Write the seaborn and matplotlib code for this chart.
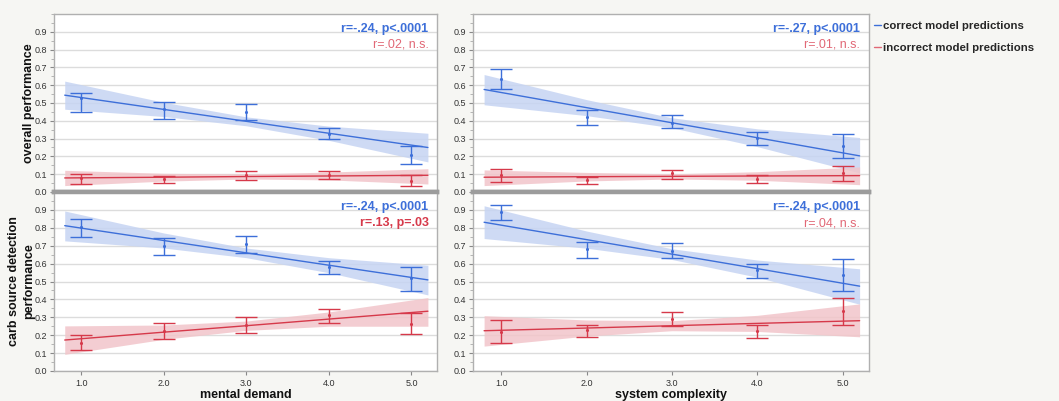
"""
    Mean performance (with 95% CI) of correct vs incorrect model predictions
    against mental demand / system complexity ratings, with linear fit bands.
"""
import pandas as pd
import seaborn as sns
import matplotlib.pyplot as plt
from matplotlib.lines import Line2D
from matplotlib.ticker import MultipleLocator

levels = [1, 2, 3, 4, 5]
fit_x = [0.8, 2, 3, 4, 5.2]

#---- overall performance vs mental demand ----#
op_md_cor_mean = [0.530, 0.467, 0.452, 0.328, 0.210]
op_md_cor_lo = [0.447, 0.411, 0.407, 0.295, 0.160]
op_md_cor_hi = [0.557, 0.508, 0.497, 0.360, 0.259]
op_md_cor_fit = [0.544, 0.464, 0.397, 0.330, 0.250]
op_md_cor_band_lo = [0.465, 0.424, 0.372, 0.290, 0.169]
op_md_cor_band_hi = [0.623, 0.504, 0.422, 0.370, 0.330]
op_md_inc_mean = [0.078, 0.072, 0.095, 0.097, 0.063]
op_md_inc_lo = [0.047, 0.051, 0.069, 0.075, 0.032]
op_md_inc_hi = [0.103, 0.092, 0.120, 0.116, 0.094]
op_md_inc_fit = [0.079, 0.083, 0.087, 0.090, 0.094]
op_md_inc_band_lo = [0.036, 0.061, 0.073, 0.068, 0.045]
op_md_inc_band_hi = [0.122, 0.105, 0.101, 0.112, 0.131]

#---- overall performance vs system complexity ----#
op_sc_cor_mean = [0.636, 0.422, 0.388, 0.306, 0.259]
op_sc_cor_lo = [0.580, 0.377, 0.360, 0.265, 0.190]
op_sc_cor_hi = [0.690, 0.463, 0.433, 0.336, 0.325]
op_sc_cor_fit = [0.576, 0.474, 0.389, 0.305, 0.203]
op_sc_cor_band_lo = [0.490, 0.429, 0.361, 0.255, 0.107]
op_sc_cor_band_hi = [0.660, 0.519, 0.417, 0.355, 0.306]
op_sc_inc_mean = [0.094, 0.066, 0.107, 0.071, 0.107]
op_sc_inc_lo = [0.056, 0.047, 0.075, 0.053, 0.064]
op_sc_inc_hi = [0.128, 0.084, 0.124, 0.096, 0.144]
op_sc_inc_fit = [0.083, 0.086, 0.088, 0.090, 0.092]
op_sc_inc_band_lo = [0.036, 0.062, 0.073, 0.066, 0.041]
op_sc_inc_band_hi = [0.124, 0.110, 0.102, 0.114, 0.141]

#---- carb source detection vs mental demand ----#
cs_md_cor_mean = [0.807, 0.699, 0.710, 0.583, 0.518]
cs_md_cor_lo = [0.751, 0.648, 0.661, 0.540, 0.445]
cs_md_cor_hi = [0.851, 0.745, 0.755, 0.615, 0.583]
cs_md_cor_fit = [0.812, 0.729, 0.660, 0.591, 0.509]
cs_md_cor_band_lo = [0.727, 0.687, 0.633, 0.549, 0.425]
cs_md_cor_band_hi = [0.894, 0.771, 0.687, 0.633, 0.591]
cs_md_inc_mean = [0.158, 0.222, 0.257, 0.311, 0.261]
cs_md_inc_lo = [0.115, 0.179, 0.211, 0.270, 0.205]
cs_md_inc_hi = [0.200, 0.266, 0.304, 0.348, 0.322]
cs_md_inc_fit = [0.173, 0.217, 0.253, 0.290, 0.334]
cs_md_inc_band_lo = [0.093, 0.177, 0.227, 0.250, 0.250]
cs_md_inc_band_hi = [0.252, 0.257, 0.279, 0.330, 0.410]

#---- carb source detection vs system complexity ----#
cs_sc_cor_mean = [0.890, 0.680, 0.670, 0.562, 0.536]
cs_sc_cor_lo = [0.845, 0.631, 0.631, 0.517, 0.446]
cs_sc_cor_hi = [0.927, 0.719, 0.713, 0.597, 0.625]
cs_sc_cor_fit = [0.831, 0.734, 0.653, 0.572, 0.474]
cs_sc_cor_band_lo = [0.740, 0.686, 0.623, 0.524, 0.373]
cs_sc_cor_band_hi = [0.923, 0.782, 0.683, 0.620, 0.571]
cs_sc_inc_mean = [0.217, 0.227, 0.292, 0.223, 0.335]
cs_sc_inc_lo = [0.155, 0.189, 0.249, 0.184, 0.258]
cs_sc_inc_hi = [0.283, 0.258, 0.331, 0.258, 0.410]
cs_sc_inc_fit = [0.225, 0.240, 0.253, 0.266, 0.281]
cs_sc_inc_band_lo = [0.139, 0.195, 0.225, 0.221, 0.191]
cs_sc_inc_band_hi = [0.309, 0.285, 0.281, 0.311, 0.375]

x_labels = ['mental demand', 'system complexity']
y_labels = ['overall performance', 'carb source detection\nperformance']
stats_correct = [['r=-.24, p<.0001', 'r=-.27, p<.0001'],
                 ['r=-.24, p<.0001', 'r=-.24, p<.0001']]
stats_incorrect = [['r=.02, n.s.', 'r=.01, n.s.'],
                   ['r=.13, p=.03', 'r=.04, n.s.']]
group_names = ['correct model predictions', 'incorrect model predictions']

BLUE = '#3d6fd9'
BLUE_FILL = '#c6d4f3'
RED = '#d6394a'
RED_FILL = '#f2c5ca'
RED_NS = '#e16876'
BG = '#f6f6f3'

sns.set_theme(style='white')
plt.rcParams['font.family'] = ['Liberation Sans', 'DejaVu Sans']

fig = plt.figure(figsize=(10.59, 4.01), dpi=100, facecolor=BG)

W, H = 1059, 401
col_px = [(54, 437), (473, 869)]
row_px = [(14, 192), (192, 371)]

panels = [
    [(op_md_cor_mean, op_md_cor_lo, op_md_cor_hi, op_md_cor_fit, op_md_cor_band_lo, op_md_cor_band_hi),
     (op_md_inc_mean, op_md_inc_lo, op_md_inc_hi, op_md_inc_fit, op_md_inc_band_lo, op_md_inc_band_hi)],
    [(op_sc_cor_mean, op_sc_cor_lo, op_sc_cor_hi, op_sc_cor_fit, op_sc_cor_band_lo, op_sc_cor_band_hi),
     (op_sc_inc_mean, op_sc_inc_lo, op_sc_inc_hi, op_sc_inc_fit, op_sc_inc_band_lo, op_sc_inc_band_hi)],
    [(cs_md_cor_mean, cs_md_cor_lo, cs_md_cor_hi, cs_md_cor_fit, cs_md_cor_band_lo, cs_md_cor_band_hi),
     (cs_md_inc_mean, cs_md_inc_lo, cs_md_inc_hi, cs_md_inc_fit, cs_md_inc_band_lo, cs_md_inc_band_hi)],
    [(cs_sc_cor_mean, cs_sc_cor_lo, cs_sc_cor_hi, cs_sc_cor_fit, cs_sc_cor_band_lo, cs_sc_cor_band_hi),
     (cs_sc_inc_mean, cs_sc_inc_lo, cs_sc_inc_hi, cs_sc_inc_fit, cs_sc_inc_band_lo, cs_sc_inc_band_hi)],
]

for r in range(2):
    for c in range(2):
        x0, x1 = col_px[c]
        y0, y1 = row_px[r]
        ax = fig.add_axes([x0 / W, 1 - y1 / H, (x1 - x0) / W, (y1 - y0) / H])
        ax.set_facecolor('white')
        groups = panels[r * 2 + c]

        for (mean, lo, hi, fit, blo, bhi), color, fill in zip(groups, [BLUE, RED], [BLUE_FILL, RED_FILL]):
            ax.fill_between(fit_x, blo, bhi, color=fill, alpha=0.85, lw=0, zorder=1)
            fit_df = pd.DataFrame({'x': fit_x, 'y': fit})
            sns.lineplot(data=fit_df, x='x', y='y', color=color, lw=1.0, ax=ax, zorder=3)
            pts = pd.DataFrame({'x': levels, 'y': mean})
            ax.errorbar(levels, mean,
                        yerr=[[m - l for m, l in zip(mean, lo)], [h - m for m, h in zip(mean, hi)]],
                        fmt='none', ecolor=color, elinewidth=1.0, capsize=8, capthick=1.0, zorder=4)
            sns.scatterplot(data=pts, x='x', y='y', color=color, s=5, linewidth=0, ax=ax, zorder=5)

        ax.set_xlim(0.67, 5.31)
        ax.set_ylim(0, 1.0)
        ax.yaxis.set_minor_locator(MultipleLocator(0.05))
        ax.set_yticks([i / 10 for i in range(10)])
        ax.set_yticklabels(['%.1f' % (i / 10) for i in range(10)])
        ax.set_xticks(levels)
        ax.grid(axis='y', color='#dcdcdc', lw=1.0, zorder=0)
        ax.set_axisbelow(True)
        ax.tick_params(axis='y', which='major', length=3, width=0.8, color='#888888',
                       labelsize=6.5, labelcolor='#333333', pad=2, left=True)
        ax.tick_params(axis='y', which='minor', length=2, width=0.6, color='#aaaaaa', left=True)
        for sp in ax.spines.values():
            sp.set_color('#b0b0b0')
            sp.set_linewidth(1.0)
        if r == 0:
            ax.spines['bottom'].set_color('#9c9c9c')
            ax.spines['bottom'].set_linewidth(3.2)
            ax.tick_params(axis='x', bottom=False, labelbottom=False)
        else:
            ax.spines['top'].set_color('#9c9c9c')
            ax.spines['top'].set_linewidth(3.2)
            ax.set_xticklabels(['%.1f' % v for v in levels])
            ax.tick_params(axis='x', length=3, width=0.8, color='#888888', bottom=True,
                           labelsize=6.5, labelcolor='#333333', pad=3)

        ax.set_xlabel(x_labels[c] if r == 1 else '', fontsize=9, fontweight='bold', color='#111111')
        ax.xaxis.set_label_coords(0.5, -0.1)
        if c == 0:
            ax.set_ylabel(y_labels[r], fontsize=9, fontweight='bold', color='#111111',
                          multialignment='center', linespacing=1.35)
            ax.yaxis.set_label_coords(-0.049, 0.5)
        else:
            ax.set_ylabel('')

        ax.text(0.978, 0.915, stats_correct[r][c], transform=ax.transAxes, ha='right', va='center',
                fontsize=9, fontweight='bold', color=BLUE)
        sig = 'p=' in stats_incorrect[r][c]
        ax.text(0.978, 0.826, stats_incorrect[r][c], transform=ax.transAxes, ha='right', va='center',
                fontsize=9, fontweight='bold' if sig else 'normal', color=RED if sig else RED_NS)

handles = [Line2D([0], [0], color=BLUE, lw=1.0), Line2D([0], [0], color=RED_NS, lw=1.0)]
fig.legend(handles, group_names, loc='upper left', bbox_to_anchor=(864 / W, 1 - 11 / H),
           frameon=False, handlelength=0.6, handletextpad=0.15, labelspacing=1.0,
           prop={'size': 8.2, 'weight': 'bold'})

plt.savefig('out.png', dpi=100, facecolor=BG)
plt.close()
